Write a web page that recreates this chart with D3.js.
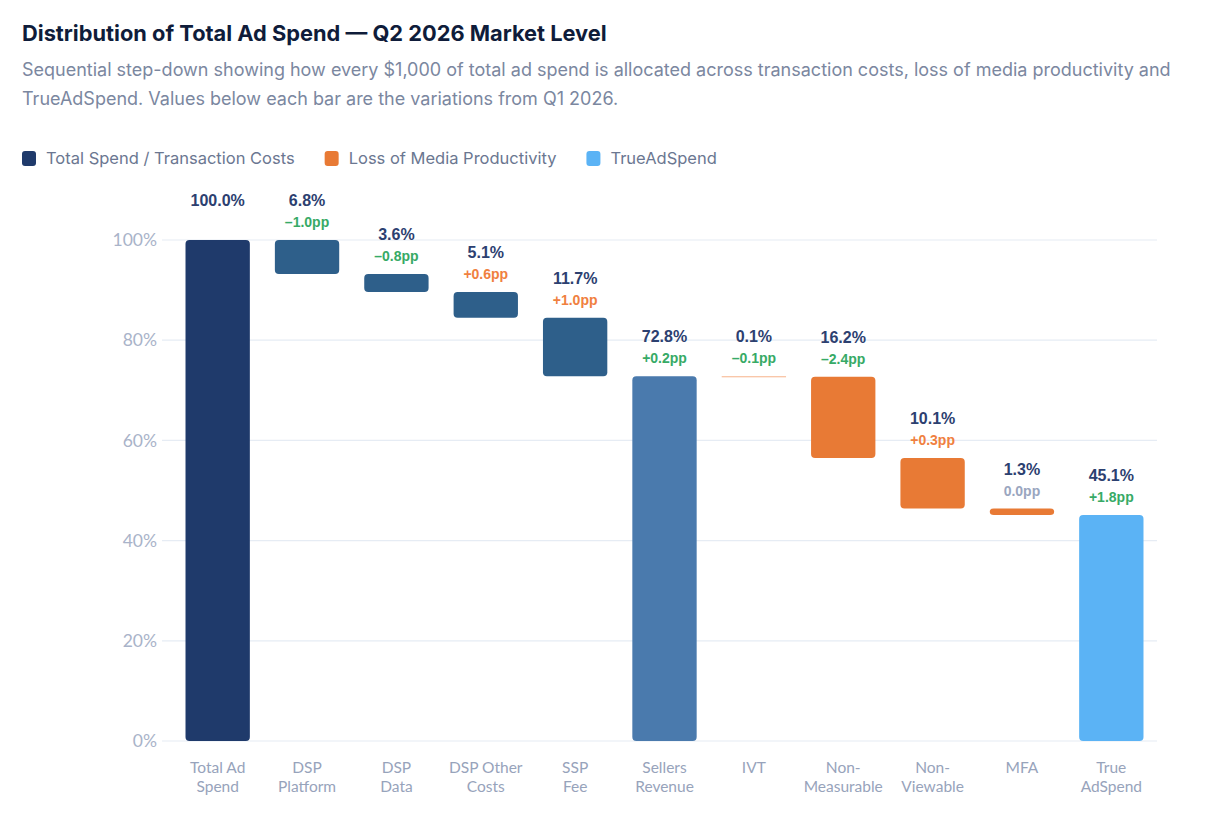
<!DOCTYPE html>
<html>
<head>
<meta charset="utf-8">
<script src="https://cdn.jsdelivr.net/npm/d3@7"></script>
<style>
  body { margin: 0; background: #fff; font-family: Inter, Lato, sans-serif; }
  #chart { width: 1214px; height: 832px; }
</style>
</head>
<body>
<div id="chart"></div>
<script>
// data
const categories = ["Total Ad|Spend", "DSP|Platform", "DSP|Data", "DSP Other|Costs", "SSP|Fee",
  "Sellers|Revenue", "IVT", "Non-|Measurable", "Non-|Viewable", "MFA", "True|AdSpend"];
const values = [100.0, 6.8, 3.6, 5.1, 11.7, 72.8, 0.1, 16.2, 10.1, 1.3, 45.1];
const barType = ["total", "cost", "cost", "cost", "cost", "sellers", "loss", "loss", "loss", "loss", "true"];
const deltas = [null, -1.0, -0.8, 0.6, 1.0, 0.2, -0.1, -2.4, 0.3, 0.0, 1.8];
// good = improvement (green), bad = worse (orange), flat = grey
const deltaTone = [null, "good", "good", "bad", "bad", "good", "good", "good", "bad", "flat", "good"];
const yTicks = [0, 20, 40, 60, 80, 100];
const legendItems = [
  { label: "Total Spend / Transaction Costs", color: "#1f3a6b" },
  { label: "Loss of Media Productivity", color: "#e87a35" },
  { label: "TrueAdSpend", color: "#5bb3f5" }
];

const colors = { total: "#1f3a6b", cost: "#2e5f8a", sellers: "#4a7aad", loss: "#e87a35", true: "#5bb3f5" };
const toneColors = { good: "#37aa66", bad: "#f08040", flat: "#9aa6bf" };

// build waterfall ranges: full bars start at 0, step bars hang from previous level
let level = 0;
const bars = values.map((v, i) => {
  const t = barType[i];
  let lo, hi;
  if (t === "total" || t === "sellers" || t === "true") {
    lo = 0; hi = v; level = v;
  } else {
    hi = level; lo = level - v; level = lo;
  }
  return { i, cat: categories[i], v, lo, hi, type: t, delta: deltas[i], tone: deltaTone[i] };
});

const svg = d3.select("#chart").append("svg")
  .attr("width", 1214)
  .attr("height", 832);

svg.append("text")
  .attr("x", 22).attr("y", 41)
  .attr("font-size", 21.8).attr("font-weight", 700)
  .attr("fill", "#0f1c3a")
  .text("Distribution of Total Ad Spend — Q2 2026 Market Level");

const sub = svg.append("text")
  .attr("font-size", 18).attr("fill", "#7b879f");
sub.append("tspan").attr("x", 22).attr("y", 76)
  .text("Sequential step-down showing how every $1,000 of total ad spend is allocated across transaction costs, loss of media productivity and");
sub.append("tspan").attr("x", 22).attr("y", 105)
  .text("TrueAdSpend. Values below each bar are the variations from Q1 2026.");

// legend
const legend = svg.append("g").attr("transform", "translate(22,158)");
let lx = 0;
legendItems.forEach(d => {
  const g = legend.append("g").attr("transform", `translate(${lx},0)`);
  g.append("rect").attr("x", 0).attr("y", -7).attr("width", 14).attr("height", 15)
    .attr("rx", 3).attr("fill", d.color);
  const t = g.append("text").attr("x", 24).attr("y", 6)
    .attr("font-size", 16.5).attr("fill", "#6b7791").text(d.label);
  lx += 24 + t.node().getComputedTextLength() + 30;
});

const x = d3.scaleBand()
  .domain(categories)
  .range([173, 1156])
  .paddingInner(0.28)
  .paddingOuter(0.14);

const y = d3.scaleLinear().domain([0, 100]).range([741, 240]);

// grid
svg.append("g").selectAll("line")
  .data(yTicks).join("line")
  .attr("x1", 162).attr("x2", 1157)
  .attr("y1", d => y(d)).attr("y2", d => y(d))
  .attr("stroke", "#e6ecf4").attr("stroke-width", 1.2);

const yAxis = d3.axisLeft(y).tickValues(yTicks).tickFormat(d => d + "%").tickSize(0).tickPadding(0);
svg.append("g").attr("transform", "translate(157,0)").call(yAxis)
  .call(g => g.select(".domain").remove())
  .call(g => g.selectAll("text").attr("font-family", "Lato, sans-serif")
    .attr("font-size", 17.5).attr("fill", "#a9b3c9"));

// bars
svg.append("g").selectAll("rect")
  .data(bars).join("rect")
  .attr("x", d => x(d.cat))
  .attr("width", x.bandwidth())
  .attr("y", d => y(d.hi))
  .attr("height", d => Math.max(1, y(d.lo) - y(d.hi)))
  .attr("rx", d => (y(d.lo) - y(d.hi)) < 4 ? 0 : 4)
  .attr("fill", d => d.v < 0.5 ? "#f7b38a" : colors[d.type]);

// value labels
const lab = svg.append("g").attr("font-family", "'Liberation Sans', Arial, sans-serif")
  .attr("font-weight", 700).attr("text-anchor", "middle");
lab.selectAll("text.val")
  .data(bars).join("text").attr("class", "val")
  .attr("x", d => x(d.cat) + x.bandwidth() / 2)
  .attr("y", d => y(d.hi) - 34)
  .attr("font-size", 16).attr("fill", "#2c4070")
  .text(d => d.v.toFixed(1) + "%");

lab.selectAll("text.delta")
  .data(bars.filter(d => d.delta !== null)).join("text").attr("class", "delta")
  .attr("x", d => x(d.cat) + x.bandwidth() / 2)
  .attr("y", d => y(d.hi) - 13)
  .attr("font-size", 14)
  .attr("fill", d => toneColors[d.tone])
  .text(d => (d.delta < 0 ? "–" : d.delta > 0 ? "+" : "") + Math.abs(d.delta).toFixed(1) + "pp");

// category labels
const cl = svg.append("g").attr("text-anchor", "middle").attr("font-family", "Lato, sans-serif")
  .attr("font-size", 15.5).attr("fill", "#97a3bb");
cl.selectAll("text")
  .data(categories).join("text")
  .attr("transform", d => `translate(${x(d) + x.bandwidth() / 2},773)`)
  .each(function (d) {
    const parts = d.split("|");
    parts.forEach((p, k) => {
      d3.select(this).append("tspan").attr("x", 0).attr("y", k * 19).text(p);
    });
  });
</script>
</body>
</html>
